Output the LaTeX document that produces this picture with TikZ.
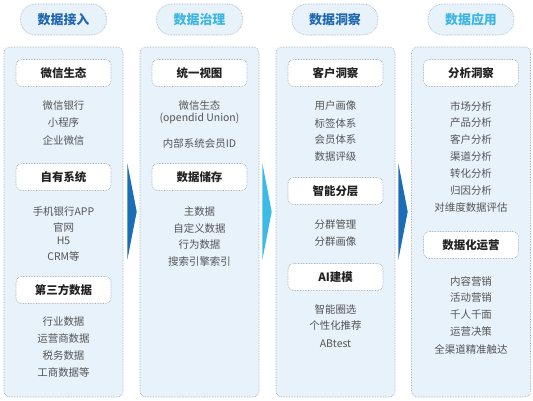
\documentclass[tikz,border=0pt]{standalone}
\usepackage{fontspec}
\setmainfont{Noto Sans CJK SC}
\definecolor{panelfill}{HTML}{E7F2FB}
\definecolor{dotgray}{HTML}{9AA7B5}
\definecolor{darkblue}{HTML}{2168B0}
\definecolor{lightblue}{HTML}{3DB5E3}
\definecolor{arrowdark}{HTML}{1B6DB5}
\definecolor{arrowlight}{HTML}{3BBBE6}
\definecolor{bodytext}{HTML}{555555}
\definecolor{headtext}{HTML}{222222}
\tikzset{
  panel/.style={draw=dotgray, fill=panelfill, densely dotted, rounded corners=6bp, line width=0.6bp, minimum width=119bp, minimum height=350bp, inner sep=0},
  pill/.style={draw=dotgray, fill=panelfill, densely dotted, rounded corners=15bp, line width=0.6bp, minimum width=86bp, minimum height=31bp, font=\bfseries\fontsize{13}{15}\selectfont},
  hbox/.style={draw=dotgray, fill=white, densely dotted, rounded corners=6bp, line width=0.6bp, minimum width=95bp, minimum height=27bp, font=\bfseries\fontsize{11.5}{13}\selectfont, text=headtext},
  item/.style={font=\fontsize{10.5}{12}\selectfont, text=bodytext, inner sep=0},
  tri/.style={draw=none}
}
\begin{document}
\begin{tikzpicture}[x=1bp,y=-1bp]
\useasboundingbox (0,0) rectangle (533,400);
% headers
\node[pill, text=darkblue] (h1) at (63.5,19.5) {数据接入};
\node[pill, text=lightblue] (h2) at (199.5,19.5) {数据治理};
\node[pill, text=darkblue] (h3) at (335,19.5) {数据洞察};
\node[pill, text=lightblue] (h4) at (471,19.5) {数据应用};
% panels
\node[panel] (p1) at (63.5,222) {};
\node[panel] (p2) at (199.5,222) {};
\node[panel] (p3) at (335.5,222) {};
\node[panel] (p4) at (471,222) {};
% arrows
\fill[arrowdark] (127.3,163) -- (136.7,211.7) -- (127.3,260) -- cycle;
\fill[arrowlight] (262.3,163) -- (271.7,211.7) -- (262.3,260) -- cycle;
\fill[arrowdark] (398.3,163) -- (407.7,211.7) -- (398.3,260) -- cycle;
% column 1
\node[hbox] (b11) at (63.5,73) {微信生态};
\node[item] (t111) at (63.5,106) {微信银行};
\node[item] (t112) at (63.5,123) {小程序};
\node[item] (t113) at (63.5,140) {企业微信};
\node[hbox] (b12) at (63.5,177) {自有系统};
\node[item] (t121) at (63.5,212) {手机银行APP};
\node[item] (t122) at (63.5,227) {官网};
\node[item] (t123) at (63.5,241) {H5};
\node[item] (t124) at (63.5,256) {CRM等};
\node[hbox] (b13) at (63.5,290) {第三方数据};
\node[item] (t131) at (63.5,322) {行业数据};
\node[item] (t132) at (63.5,339) {运营商数据};
\node[item] (t133) at (63.5,356) {税务数据};
\node[item] (t134) at (63.5,373) {工商数据等};
% column 2
\node[hbox] (b21) at (199.5,73) {统一视图};
\node[item] (t211) at (199.5,106) {微信生态};
\node[item] (t212) at (199.5,118.5) {(opendid Union)};
\node[item] (t213) at (199.5,144) {内部系统会员ID};
\node[hbox] (b22) at (199.5,177) {数据储存};
\node[item] (t221) at (199.5,212) {主数据};
\node[item] (t222) at (199.5,228.5) {自定义数据};
\node[item] (t223) at (199.5,245) {行为数据};
\node[item] (t224) at (199.5,262) {搜索引擎索引};
% column 3
\node[hbox] (b31) at (335.5,73) {客户洞察};
\node[item] (t311) at (335.5,106) {用户画像};
\node[item] (t312) at (335.5,123) {标签体系};
\node[item] (t313) at (335.5,140) {会员体系};
\node[item] (t314) at (335.5,157) {数据评级};
\node[hbox] (b32) at (335.5,191) {智能分层};
\node[item] (t321) at (335.5,225) {分群管理};
\node[item] (t322) at (335.5,242) {分群画像};
\node[hbox] (b33) at (335.5,277) {AI建模};
\node[item] (t331) at (335.5,309) {智能圈选};
\node[item] (t332) at (335.5,326) {个性化推荐};
\node[item] (t333) at (335.5,344) {ABtest};
% column 4
\node[hbox] (b41) at (471,73) {分析洞察};
\node[item] (t411) at (471,106) {市场分析};
\node[item] (t412) at (471,123) {产品分析};
\node[item] (t413) at (471,140) {客户分析};
\node[item] (t414) at (471,157) {渠道分析};
\node[item] (t415) at (471,174) {转化分析};
\node[item] (t416) at (471,191) {归因分析};
\node[item] (t417) at (471,208) {对维度数据评估};
\node[hbox] (b42) at (471,245) {数据化运营};
\node[item] (t421) at (471,281) {内容营销};
\node[item] (t422) at (471,298) {活动营销};
\node[item] (t423) at (471,315) {千人千面};
\node[item] (t424) at (471,332) {运营决策};
\node[item] (t425) at (471,349) {全渠道精准触达};
\end{tikzpicture}
\end{document}
